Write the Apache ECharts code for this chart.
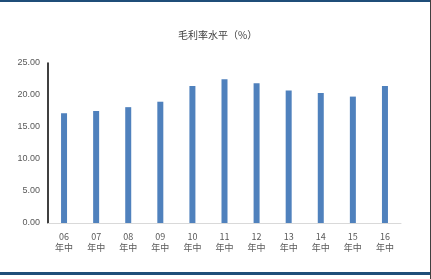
<!DOCTYPE html>
<html><head><meta charset="utf-8">
<script src="https://cdn.jsdelivr.net/npm/echarts@6/dist/echarts.min.js"></script>
<style>html,body{margin:0;padding:0;background:#fff}#c{width:431px;height:279px}</style>
</head><body><div id="c"></div>
<script>
const categories = ['06\n年中','07\n年中','08\n年中','09\n年中','10\n年中','11\n年中','12\n年中','13\n年中','14\n年中','15\n年中','16\n年中'];
const grossMargin = [17.15, 17.5, 18.1, 18.95, 21.4, 22.45, 21.85, 20.7, 20.3, 19.75, 21.4];
const titleText = '毛利率水平（%）';

const chart = echarts.init(document.getElementById('c'), null, {renderer: 'canvas'});
chart.setOption({
  animation: false,
  backgroundColor: '#fff',
  title: {
    text: titleText, left: 173, top: 25,
    textStyle: {fontSize: 10, fontWeight: 'normal', color: '#404040', fontFamily: 'Noto Sans CJK SC'}
  },
  grid: {left: 48, right: 30, top: 63, bottom: 56, containLabel: false},
  xAxis: {
    type: 'category', data: categories,
    axisLine: {lineStyle: {color: '#d9d9d9', width: 1}},
    axisTick: {show: false},
    axisLabel: {color: '#595959', fontSize: 9, lineHeight: 11, margin: 8, fontFamily: 'Noto Sans CJK SC'}
  },
  yAxis: {
    type: 'value', min: 0, max: 25, interval: 5,
    axisLine: {show: true, lineStyle: {color: '#000', width: 1.5}},
    axisTick: {show: false},
    splitLine: {show: false},
    axisLabel: {color: '#595959', fontSize: 9, margin: 8, formatter: v => v.toFixed(2), fontFamily: 'Liberation Sans'}
  },
  series: [{
    type: 'bar', data: grossMargin, barWidth: 6,
    itemStyle: {color: '#4F81BD'}
  }],
  graphic: [
    {type: 'rect', shape: {x: 0, y: 0, width: 431, height: 2}, style: {fill: '#1F4E79'}},
    {type: 'rect', shape: {x: 0, y: 272, width: 431, height: 3}, style: {fill: '#1F4E79'}},
    {type: 'rect', shape: {x: 430, y: 0, width: 1, height: 279}, style: {fill: '#404040'}}
  ]
});
</script></body></html>
